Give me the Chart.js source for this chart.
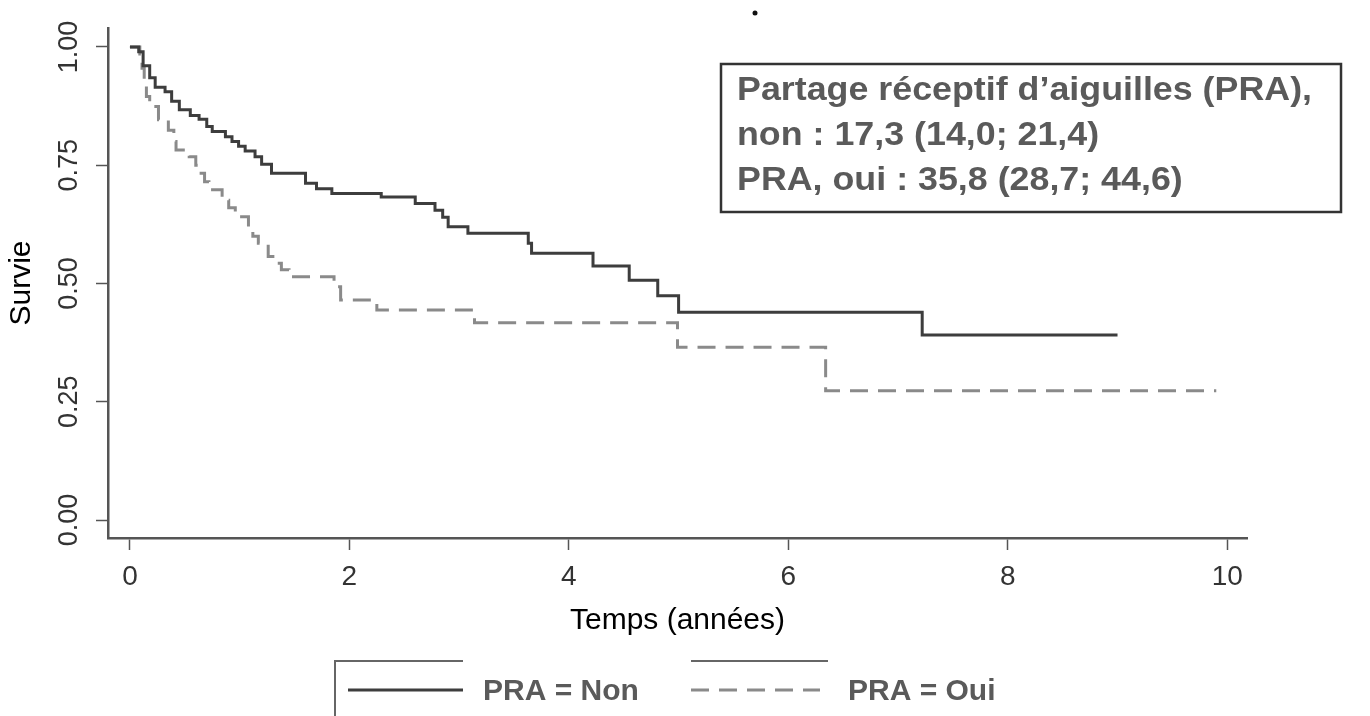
<!DOCTYPE html>
<html lang="fr">
<head>
  <meta charset="UTF-8">
  <title>Survie selon le partage réceptif d'aiguilles</title>
  <script src="https://cdn.jsdelivr.net/npm/chart.js"></script>
  <style>
    body {
      margin: 0;
      background: #fff;
      font-family: 'Liberation Sans', Arial, sans-serif;
    }
    .wrap {
      position: relative;
      width: 1370px;
      height: 716px;
    }
  </style>
</head>
<body>
  <div class="wrap">
    <canvas id="survieChart"></canvas>
  </div>

<script>
// Axes
const xTicks = [0, 2, 4, 6, 8, 10];
const yTicks = [0, 0.25, 0.5, 0.75, 1];

// Séries (temps en années, survie estimée)
const seriesNames = ['PRA = Non', 'PRA = Oui'];
const nonTimes = [0, 0.08, 0.12, 0.18, 0.23, 0.32, 0.38, 0.45, 0.55, 0.63, 0.70, 0.75, 0.87, 0.93, 0.99, 1.05, 1.14, 1.20, 1.29, 1.60, 1.70, 1.84, 2.29, 2.60, 2.78, 2.85, 2.90, 3.08, 3.63, 3.66, 4.22, 4.55, 4.81, 5.00, 7.22, 9.00];
const nonSurv = [1.0, 0.99, 0.96, 0.935, 0.915, 0.905, 0.885, 0.867, 0.855, 0.847, 0.832, 0.821, 0.81, 0.80, 0.79, 0.78, 0.768, 0.752, 0.733, 0.712, 0.70, 0.69, 0.683, 0.669, 0.655, 0.64, 0.62, 0.606, 0.585, 0.564, 0.537, 0.507, 0.474, 0.439, 0.391, 0.391];
const ouiTimes = [0, 0.09, 0.11, 0.13, 0.15, 0.18, 0.26, 0.35, 0.40, 0.42, 0.54, 0.60, 0.63, 0.68, 0.72, 0.84, 0.90, 0.96, 1.08, 1.12, 1.17, 1.26, 1.32, 1.38, 1.45, 1.86, 1.92, 2.25, 3.14, 4.99, 6.34, 9.90];
const ouiSurv = [1.0, 0.985, 0.955, 0.92, 0.895, 0.874, 0.846, 0.824, 0.80, 0.782, 0.768, 0.75, 0.733, 0.715, 0.698, 0.676, 0.66, 0.641, 0.613, 0.60, 0.585, 0.557, 0.543, 0.529, 0.514, 0.493, 0.465, 0.444, 0.417, 0.365, 0.273, 0.273];

// Encadré
const boxLines = [
  'Partage réceptif d’aiguilles (PRA),',
  'non : 17,3 (14,0; 21,4)',
  'PRA, oui : 35,8 (28,7; 44,6)'
];

const FONT = "'Liberation Sans', Arial, sans-serif";

function toPoints(times, surv) {
  return times.map((t, i) => ({ x: t, y: surv[i] }));
}

// encadré + légende dessinés par-dessus le graphique
const extras = {
  id: 'extras',
  afterDraw(chart) {
    const ctx = chart.ctx;
    ctx.save();

    // petit point en haut
    ctx.fillStyle = '#111';
    ctx.beginPath();
    ctx.arc(755, 13, 2.5, 0, Math.PI * 2);
    ctx.fill();

    // encadré
    ctx.strokeStyle = '#333';
    ctx.lineWidth = 2.5;
    ctx.strokeRect(721, 64, 620, 148);
    ctx.fillStyle = '#5a5a5a';
    ctx.font = 'bold 34px ' + FONT;
    ctx.textBaseline = 'alphabetic';
    const sx = 575 / ctx.measureText(boxLines[0]).width;
    boxLines.forEach((line, i) => {
      ctx.save();
      ctx.translate(737, 100 + i * 45);
      ctx.scale(sx, 1);
      ctx.fillText(line, 0, 0);
      ctx.restore();
    });

    // légende
    ctx.strokeStyle = '#666';
    ctx.lineWidth = 2;
    ctx.beginPath();
    ctx.moveTo(335, 716);
    ctx.lineTo(335, 661);
    ctx.lineTo(463, 661);
    ctx.moveTo(691, 661);
    ctx.lineTo(828, 661);
    ctx.stroke();

    const ds = chart.data.datasets;
    const samples = [[348, 463, 483], [691, 820, 848]];
    samples.forEach((s, i) => {
      ctx.save();
      ctx.strokeStyle = ds[i].borderColor;
      ctx.lineWidth = ds[i].borderWidth;
      ctx.setLineDash(ds[i].borderDash || []);
      ctx.beginPath();
      ctx.moveTo(s[0], 690);
      ctx.lineTo(s[1], 690);
      ctx.stroke();
      ctx.restore();
      ctx.fillStyle = '#5a5a5a';
      ctx.font = 'bold 30px ' + FONT;
      ctx.textBaseline = 'alphabetic';
      ctx.fillText(seriesNames[i], s[2], 700);
    });

    ctx.restore();
  }
};

new Chart(document.getElementById('survieChart'), {
  type: 'line',
  data: {
    datasets: [{
      label: seriesNames[0],
      data: toPoints(nonTimes, nonSurv),
      borderColor: '#3d3d3d',
      borderWidth: 3,
      stepped: true,
      pointRadius: 0,
      fill: false
    }, {
      label: seriesNames[1],
      data: toPoints(ouiTimes, ouiSurv),
      borderColor: '#8a8a8a',
      borderWidth: 3,
      borderDash: [18, 10],
      stepped: true,
      pointRadius: 0,
      fill: false
    }]
  },
  options: {
    responsive: true,
    maintainAspectRatio: false,
    animation: false,
    layout: { padding: { top: 28, right: 123, bottom: 77, left: 0 } },
    plugins: {
      legend: { display: false },
      tooltip: { enabled: false }
    },
    scales: {
      x: {
        type: 'linear',
        min: -0.2,
        max: 10.18,
        afterBuildTicks: s => { s.ticks = xTicks.map(v => ({ value: v })); },
        afterFit: s => { s.height = 101; },
        ticks: {
          padding: 10,
          maxRotation: 0,
          color: '#333',
          font: { family: FONT, size: 28 }
        },
        grid: { drawOnChartArea: false, tickLength: 12, tickColor: '#555', tickWidth: 1.5 },
        border: { color: '#555', width: 2.5 },
        title: {
          display: true,
          text: 'Temps (années)',
          color: '#000',
          font: { family: FONT, size: 30 },
          padding: { top: 0, bottom: 0 }
        }
      },
      y: {
        min: -0.038,
        max: 1.04,
        afterBuildTicks: s => { s.ticks = yTicks.map(v => ({ value: v })); },
        afterFit: s => { s.width = 108; },
        ticks: {
          minRotation: 90,
          maxRotation: 90,
          crossAlign: 'center',
          padding: 0,
          color: '#333',
          font: { family: FONT, size: 27 },
          callback: v => v.toFixed(2)
        },
        grid: { drawOnChartArea: false, tickLength: 12, tickColor: '#555', tickWidth: 1.5 },
        border: { color: '#555', width: 2.5 },
        title: {
          display: true,
          text: 'Survie',
          color: '#000',
          font: { family: FONT, size: 30 },
          padding: { top: 4, bottom: 0 }
        }
      }
    }
  },
  plugins: [extras]
});
</script>
</body>
</html>
